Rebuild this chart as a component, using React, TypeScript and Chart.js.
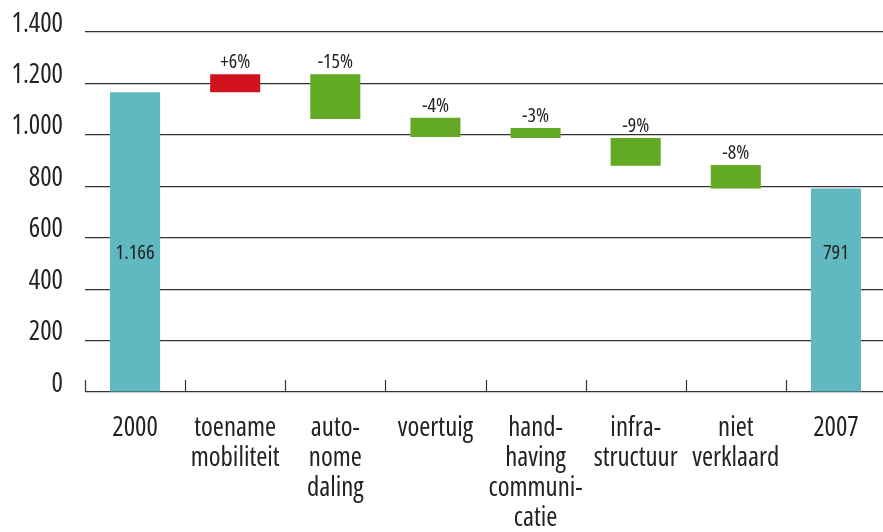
import React, { useEffect, useRef } from "react";
import { Chart, registerables } from "chart.js";

Chart.register(...registerables);

const categories: string[][] = [
  ["2000"],
  ["toename", "mobiliteit"],
  ["auto-", "nome", "daling"],
  ["voertuig"],
  ["hand-", "having", "communi-", "catie"],
  ["infra-", "structuur"],
  ["niet", "verklaard"],
  ["2007"],
];
const barStart = [0, 1166, 1062, 992, 988, 880, 791, 0];
const barEnd = [1166, 1236, 1236, 1067, 1027, 988, 883, 791];
const changeLabels = ["", "+6%", "-15%", "-4%", "-3%", "-9%", "-8%", ""];
const valueLabels = ["1.166", "", "", "", "", "", "", "791"];
const valueLabelLevel = 538;
const yTickLabels: Record<number, string> = {
  0: "0", 200: "200", 400: "400", 600: "600", 800: "800",
  1000: "1.000", 1200: "1.200", 1400: "1.400",
};

const TEAL = "#60B8C1";
const RED = "#D0121C";
const GREEN = "#62AA23";
const GRID = "#333333";
const TEXT = "#222222";
const FAMILY = "'Open Sans', 'Noto Sans', sans-serif";

const barColors = barStart.map((s, i) =>
  i === 0 || i === barStart.length - 1 ? TEAL : changeLabels[i].startsWith("+") ? RED : GREEN
);

// pick a font stretch that the installed fonts support and a size whose widths match the reference
function pickFont() {
  const c = document.createElement("canvas").getContext("2d") as CanvasRenderingContext2D;
  const w = (f: string) => {
    c.font = f;
    return c.measureText("toename").width;
  };
  const normal = w(`normal 25px ${FAMILY}`);
  const cond = w(`normal condensed 25px ${FAMILY}`);
  const useCond = cond < normal * 0.95;
  const width = useCond ? cond : normal;
  const k = 82 / width;
  return { weight: useCond ? "condensed" : "normal", k };
}

export default function App() {
  const ref = useRef<HTMLCanvasElement | null>(null);
  useEffect(() => {
    if (!ref.current) return;
    const { weight, k } = pickFont();
    const axisSize = Math.round(25 * k * 10) / 10;
    const pctSize = Math.round(18.5 * k * 10) / 10;
    const valSize = Math.round(19 * k * 10) / 10;
    const fontStr = (size: number) => `normal ${weight} ${size}px ${FAMILY}`;

    const innerTicks = {
      id: "innerTicks",
      beforeDatasetsDraw(chart: any) {
        const xs = chart.scales.x;
        const ctx = chart.ctx;
        const bottom = chart.chartArea.bottom;
        const step = xs.getPixelForValue(1) - xs.getPixelForValue(0);
        ctx.save();
        ctx.strokeStyle = GRID;
        ctx.lineWidth = 1.2;
        for (let i = 0; i <= categories.length; i++) {
          const px = Math.round(xs.getPixelForValue(0) - step / 2 + i * step) + 0.5;
          ctx.beginPath();
          ctx.moveTo(px, bottom - 12);
          ctx.lineTo(px, bottom);
          ctx.stroke();
        }
        ctx.restore();
      },
    };

    const barLabels = {
      id: "barLabels",
      afterDatasetsDraw(chart: any) {
        const ctx = chart.ctx;
        const meta = chart.getDatasetMeta(0);
        const ys = chart.scales.y;
        ctx.save();
        ctx.fillStyle = TEXT;
        ctx.textAlign = "center";
        meta.data.forEach((el: any, i: number) => {
          const top = Math.min(el.y, el.base);
          if (changeLabels[i]) {
            ctx.font = fontStr(pctSize);
            ctx.textBaseline = "alphabetic";
            ctx.fillText(changeLabels[i], el.x, top - 6);
          }
          if (valueLabels[i]) {
            ctx.font = fontStr(valSize);
            ctx.textBaseline = "middle";
            ctx.fillText(valueLabels[i], el.x, ys.getPixelForValue(valueLabelLevel));
          }
        });
        ctx.restore();
      },
    };

    const chart = new Chart(ref.current, {
      type: "bar",
      data: {
        labels: categories,
        datasets: [
          {
            data: barStart.map((s, i) => [s, barEnd[i]]) as any,
            backgroundColor: barColors,
            borderWidth: 0,
            barPercentage: 0.5,
            categoryPercentage: 1,
          },
        ],
      },
      options: {
        responsive: false,
        animation: false,
        layout: { padding: { left: 0, right: 4, top: 32, bottom: 0 } },
        plugins: { legend: { display: false }, tooltip: { enabled: false } },
        scales: {
          x: {
            grid: { display: false, drawTicks: false },
            border: { display: false },
            ticks: {
              color: TEXT,
              font: { family: FAMILY, size: axisSize, weight: weight as any, lineHeight: "30px" },
              padding: 21,
              maxRotation: 0,
              autoSkip: false,
            },
            afterFit(scale: any) {
              scale.height = 140;
            },
          },
          y: {
            min: 0,
            max: 1400,
            grid: { color: GRID, lineWidth: 1.2, drawTicks: false },
            border: { display: false },
            ticks: {
              stepSize: 200,
              color: TEXT,
              font: { family: FAMILY, size: axisSize, weight: weight as any, lineHeight: "10px" },
              padding: 22,
              labelOffset: -8,
              callback: (v: any) => yTickLabels[Number(v)] ?? String(v),
            },
            afterFit(scale: any) {
              scale.width = 85;
            },
          },
        },
      },
      plugins: [innerTicks, barLabels],
    });
    return () => chart.destroy();
  }, []);
  return (
    <div
      style={{
        position: "fixed",
        left: 0,
        top: 0,
        width: 883,
        height: 532,
        overflow: "hidden",
        background: "#ffffff",
      }}
    >
      <canvas ref={ref} width={890} height={532} style={{ display: "block" }} />
    </div>
  );
}
